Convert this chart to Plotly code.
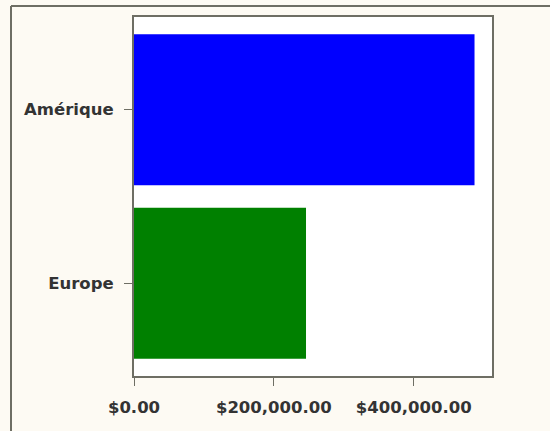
import plotly.graph_objects as go

categories = ["Europe", "Amérique"]
values = [246000, 487000]
bar_colors = ["#008000", "#0000FF"]
tick_vals = [0, 200000, 400000]
tick_text = ["$0.00", "$200,000.00", "$400,000.00"]

BG = "#FDFAF3"
LINE = "#6E6E64"
FONT = dict(family="DejaVu Sans", size=16.5, color="#333333", weight="bold")

fig = go.Figure(go.Bar(
    y=categories, x=values, orientation="h",
    marker=dict(color=bar_colors, line=dict(width=0)),
    width=0.87,
    hoverinfo="skip",
))

fig.update_layout(
    width=550, height=431,
    margin=dict(l=134, r=58, t=17, b=55, pad=0),
    paper_bgcolor=BG, plot_bgcolor="#FFFFFF",
    font=FONT,
    showlegend=False,
    xaxis=dict(
        range=[0, 512000], tickvals=tick_vals, ticktext=tick_text,
        showgrid=False, zeroline=False,
        showline=True, linecolor=LINE, linewidth=2, mirror=True,
        ticks="outside", ticklen=8, tickcolor=LINE, tickwidth=1,
        tickfont=FONT, fixedrange=True, ticklabelstandoff=7,
    ),
    yaxis=dict(
        range=[-0.534, 1.534], type="category",
        showgrid=False, zeroline=False,
        showline=True, linecolor=LINE, linewidth=2, mirror=True,
        ticks="outside", ticklen=8, tickcolor=LINE, tickwidth=1,
        tickfont=FONT, fixedrange=True, ticklabelstandoff=7,
    ),
    shapes=[
        dict(type="line", xref="paper", yref="paper",
             x0=-123 / 358, x1=(550 - 134) / 358 + 0.01,
             y0=(431 - 55 - 6) / 359, y1=(431 - 55 - 6) / 359,
             line=dict(color=LINE, width=2), layer="below"),
        dict(type="line", xref="paper", yref="paper",
             x0=-123 / 358, x1=-123 / 358,
             y0=(431 - 55 - 6) / 359, y1=-55 / 359 - 0.01,
             line=dict(color=LINE, width=2), layer="below"),
    ],
)

fig.write_html("out.html", config={"displayModeBar": False},
               post_script="document.body.style.margin='0px';")
